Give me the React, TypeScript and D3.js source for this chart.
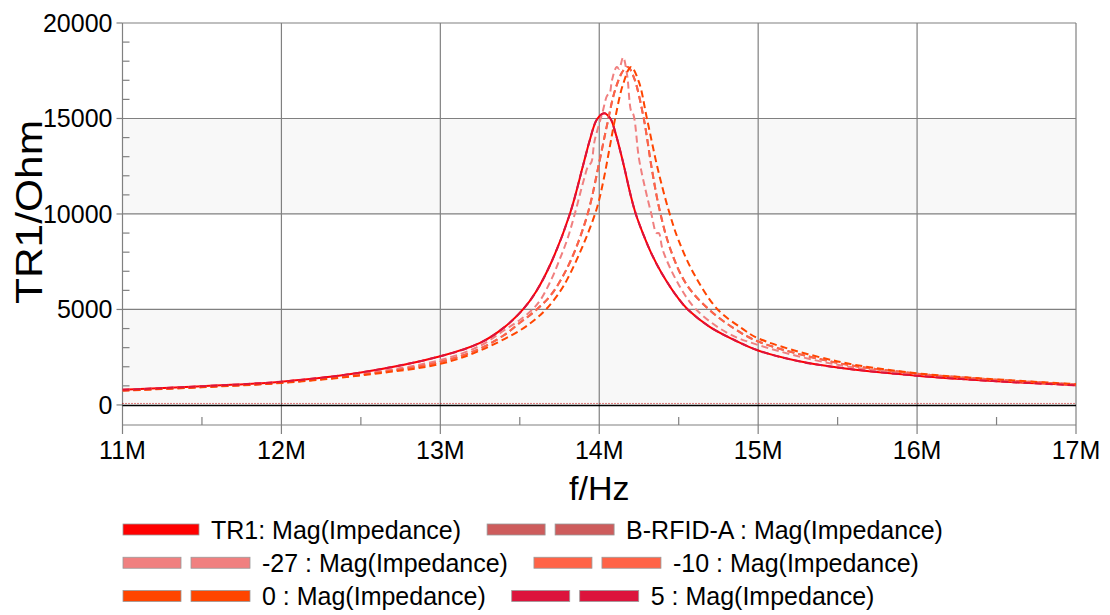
import React, { useEffect, useRef } from 'react';
import * as d3 from 'd3';

const width = 1110;
const height = 615;

const freqTicks = [11, 12, 13, 14, 15, 16, 17];
const freqMinorTicks = [11.5, 12.5, 13.5, 14.5, 15.5, 16.5];
const ohmTicks = [0, 5000, 10000, 15000, 20000];
const ohmMinorTicks = [1000, 2000, 3000, 4000, 6000, 7000, 8000, 9000, 11000, 12000, 13000, 14000, 16000, 17000, 18000, 19000];

// [MHz, Ohm]
const tr1 = [
  [11.0, 790], [11.5, 980], [12.0, 1220], [12.5, 1700], [13.0, 2550], [13.25, 3250],
  [13.4, 4050], [13.52, 5000], [13.6, 5900], [13.7, 7500], [13.815, 10000], [13.9, 12600],
  [13.94, 13850], [13.985, 14950], [14.03, 15280], [14.07, 15000], [14.1, 14300], [14.15, 12700],
  [14.2, 10900], [14.23, 10000], [14.274, 9000], [14.33, 7900], [14.393, 6900], [14.5, 5550],
  [14.557, 5000], [14.695, 4090], [14.85, 3400], [15.0, 2850], [15.25, 2300], [15.5, 1960],
  [16.0, 1530], [16.5, 1240], [17.0, 1030],
];
const bRfidA = [
  [11.0, 760], [11.5, 940], [12.0, 1170], [12.5, 1580], [13.0, 2250], [13.25, 2950],
  [13.4, 3650], [13.5, 4300], [13.6, 4950], [13.7, 5800], [13.8, 7200], [13.88, 8800],
  [13.94, 10400], [14.0, 12700], [14.05, 14700], [14.1, 16500], [14.15, 17500], [14.18, 17700],
  [14.22, 17100], [14.28, 15000], [14.33, 12400], [14.38, 10200], [14.45, 8100], [14.55, 6300],
  [14.69, 5000], [14.85, 4000], [15.0, 3320], [15.5, 2200], [16.0, 1640], [16.5, 1320], [17.0, 1075],
];
const minus27 = [
  [11.0, 770], [11.5, 955], [12.0, 1185], [12.5, 1630], [13.0, 2350], [13.25, 3100],
  [13.4, 3900], [13.5, 4450], [13.58, 5000], [13.63, 5500], [13.7, 6600], [13.75, 7600],
  [13.8, 8700], [13.846, 10000], [13.9, 11700], [13.93, 12500], [13.95, 12700], [13.97, 13800],
  [14.02, 15300], [14.05, 16200], [14.065, 16300], [14.08, 17000], [14.11, 17700], [14.125, 17600],
  [14.15, 18200], [14.175, 17300], [14.2, 15400], [14.215, 15200], [14.25, 12900], [14.29, 11300],
  [14.328, 10000], [14.36, 9000], [14.375, 9000], [14.4, 8100], [14.5, 6300], [14.61, 5000],
  [14.8, 3800], [15.0, 3140], [15.5, 2100], [16.0, 1600], [16.5, 1290], [17.0, 1060],
];
const minus10 = [
  [11.0, 760], [11.5, 940], [12.0, 1170], [12.5, 1580], [13.0, 2250], [13.25, 2950],
  [13.4, 3650], [13.5, 4300], [13.6, 4950], [13.7, 5800], [13.8, 7200], [13.88, 8800],
  [13.94, 10400], [14.0, 12700], [14.05, 14700], [14.1, 16500], [14.15, 17500], [14.18, 17700],
  [14.22, 17100], [14.28, 15000], [14.33, 12400], [14.38, 10200], [14.45, 8100], [14.55, 6300],
  [14.69, 5000], [14.85, 4000], [15.0, 3320], [15.5, 2200], [16.0, 1640], [16.5, 1320], [17.0, 1075],
];
const zero = [
  [11.0, 750], [11.5, 925], [12.0, 1150], [12.5, 1550], [13.0, 2150], [13.25, 2850],
  [13.5, 3900], [13.6, 4500], [13.67, 5050], [13.75, 5900], [13.8, 6600], [13.9, 8400],
  [13.985, 10300], [14.03, 11900], [14.066, 13500], [14.1, 15000], [14.15, 16800], [14.2, 17700],
  [14.25, 16900], [14.3, 15000], [14.37, 12300], [14.44, 10100], [14.5, 8600], [14.6, 6800],
  [14.745, 5000], [14.9, 4000], [15.0, 3490], [15.5, 2280], [16.0, 1660], [16.5, 1340], [17.0, 1090],
];
const five = tr1;

const seriesNames = [
  'TR1: Mag(Impedance)', 'B-RFID-A : Mag(Impedance)', '-27 : Mag(Impedance)',
  '-10 : Mag(Impedance)', '0 : Mag(Impedance)', '5 : Mag(Impedance)',
];
const seriesColors = ['#ff0000', '#cd5c5c', '#f08080', '#ff6347', '#ff4500', '#dc143c'];
const seriesDashed = [false, true, true, true, true, true];
const seriesData = [tr1, bRfidA, minus27, minus10, zero, five];
const legendRows = [[0, 1], [2, 3], [4, 5]];

const FONT = "'Liberation Sans', Arial, sans-serif";

export default function App() {
  const svgRef = useRef<SVGSVGElement>(null);

  useEffect(() => {
    const svg = d3.select(svgRef.current);
    svg.selectAll('*').remove();

    const left = 122.5, right = 1076, top = 23, bottom = 425;

    const x = d3.scaleLinear().domain([11, 17]).range([left, right]);
    const y = d3.scaleLinear().domain([-1050, 20000]).range([bottom, top]);

    svg.append('rect').attr('width', width).attr('height', height).attr('fill', '#fff');

    // shaded bands
    svg.append('g').selectAll('rect')
      .data([[0, 5000], [10000, 15000]])
      .enter().append('rect')
      .attr('x', left).attr('width', right - left)
      .attr('y', d => y(d[1])).attr('height', d => y(d[0]) - y(d[1]))
      .attr('fill', '#f8f8f8');

    const grid = svg.append('g').attr('stroke', '#808080').attr('stroke-width', 1.2);
    grid.selectAll('line.h')
      .data(ohmTicks.filter(d => d > 0))
      .enter().append('line')
      .attr('x1', left).attr('x2', right)
      .attr('y1', d => y(d)).attr('y2', d => y(d));
    grid.selectAll('line.v')
      .data(freqTicks)
      .enter().append('line')
      .attr('x1', d => x(d)).attr('x2', d => x(d))
      .attr('y1', top).attr('y2', bottom + 9);
    grid.append('line').attr('x1', left).attr('x2', right).attr('y1', bottom).attr('y2', bottom);
    // y ticks
    grid.selectAll('line.ym')
      .data(ohmMinorTicks)
      .enter().append('line')
      .attr('x1', left).attr('x2', left + 7)
      .attr('y1', d => y(d)).attr('y2', d => y(d));
    grid.selectAll('line.yM')
      .data(ohmTicks)
      .enter().append('line')
      .attr('x1', left - 6).attr('x2', left)
      .attr('y1', d => y(d)).attr('y2', d => y(d));
    grid.selectAll('line.xm')
      .data(freqMinorTicks)
      .enter().append('line')
      .attr('x1', d => x(d)).attr('x2', d => x(d))
      .attr('y1', bottom - 8).attr('y2', bottom);

    // zero line
    svg.append('line')
      .attr('x1', left).attr('x2', right)
      .attr('y1', y(0) + 0.5).attr('y2', y(0) + 0.5)
      .attr('stroke', '#000').attr('stroke-width', 1.5);
    svg.append('line')
      .attr('x1', left).attr('x2', right)
      .attr('y1', y(0) - 1.5).attr('y2', y(0) - 1.5)
      .attr('stroke', '#c00000').attr('stroke-width', 1).attr('stroke-dasharray', '1,2');

    const line = d3.line<number[]>()
      .x(d => x(d[0]))
      .y(d => y(d[1]))
      .curve(d3.curveCatmullRom.alpha(0.5));

    const clip = svg.append('clipPath').attr('id', 'plotclip');
    clip.append('rect').attr('x', left).attr('y', top).attr('width', right - left).attr('height', bottom - top);

    svg.append('g').attr('clip-path', 'url(#plotclip)')
      .selectAll('path')
      .data(seriesData)
      .enter().append('path')
      .attr('d', d => line(d))
      .attr('fill', 'none')
      .attr('stroke', (d, i) => seriesColors[i])
      .attr('stroke-width', 2)
      .attr('stroke-dasharray', (d, i) => (seriesDashed[i] ? '7,4' : null));

    // y labels
    svg.append('g').selectAll('text')
      .data(ohmTicks)
      .enter().append('text')
      .attr('x', left - 10).attr('y', d => y(d) + 9)
      .attr('text-anchor', 'end')
      .style('font-family', FONT).style('font-size', '25px')
      .text(d => d);

    // x labels
    svg.append('g').selectAll('text')
      .data(freqTicks)
      .enter().append('text')
      .attr('x', d => x(d)).attr('y', bottom + 34)
      .attr('text-anchor', 'middle')
      .style('font-family', FONT).style('font-size', '25px')
      .text(d => `${d}M`);

    svg.append('text')
      .attr('x', (left + right) / 2).attr('y', 500)
      .attr('text-anchor', 'middle')
      .style('font-family', FONT).style('font-size', '34px')
      .text('f/Hz');

    svg.append('text')
      .attr('transform', 'translate(42,212) rotate(-90)')
      .attr('text-anchor', 'middle')
      .attr('textLength', 184)
      .attr('lengthAdjust', 'spacingAndGlyphs')
      .style('font-family', FONT).style('font-size', '36px')
      .text('TR1/Ohm');

    // legend
    const legend = svg.append('g');
    legendRows.forEach((row, r) => {
      const cy = 529.5 + r * 33.25;
      let cx = 123;
      row.forEach(i => {
        const color = seriesColors[i];
        const bars = seriesDashed[i] ? [[0, 58], [68, 59]] : [[0, 76]];
        bars.forEach(b => {
          legend.append('rect')
            .attr('x', cx + b[0]).attr('y', cy - 5.5)
            .attr('width', b[1]).attr('height', 11)
            .attr('fill', color)
            .attr('stroke', '#9a9a9a').attr('stroke-width', 0.8);
        });
        cx += seriesDashed[i] ? 127 : 76;
        cx += 12;
        const t = legend.append('text')
          .attr('x', cx).attr('y', cy + 9)
          .style('font-family', FONT).style('font-size', '25px')
          .text(seriesNames[i]);
        const w = (t.node() as SVGTextElement).getComputedTextLength();
        cx += w + 26;
      });
    });
  }, []);

  return (
    <svg
      ref={svgRef}
      width={width}
      height={height}
      style={{ position: 'absolute', left: 0, top: 0 }}
    />
  );
}
